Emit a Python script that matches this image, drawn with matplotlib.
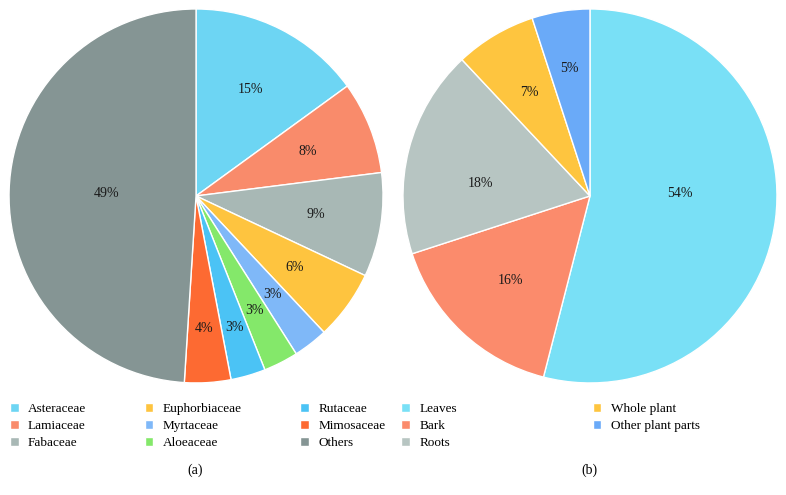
import numpy as np
import matplotlib.pyplot as plt

plt.rcParams['font.family'] = ['Liberation Serif', 'DejaVu Serif']

# (a) plant families
families = ["Asteraceae", "Lamiaceae", "Fabaceae", "Euphorbiaceae", "Myrtaceae",
            "Aloeaceae", "Rutaceae", "Mimosaceae", "Others"]
family_pct = [15, 8, 9, 6, 3, 3, 3, 4, 49]
family_colors = ["#6dd5f3", "#f98b6b", "#a8b8b5", "#fec43f", "#7fb8f8",
                 "#84e86a", "#4bc3f5", "#fd6a32", "#859594"]

# (b) plant parts
parts = ["Leaves", "Bark", "Roots", "Whole plant", "Other plant parts"]
part_pct = [54, 16, 18, 7, 5]
part_colors = ["#79e0f6", "#fb8b6c", "#b7c5c2", "#fec53f", "#6aaaf8"]

# label placement (fraction of radius, angle shift in degrees)
fam_lab_r = [0.64, 0.64, 0.65, 0.65, 0.67, 0.69, 0.73, 0.71, 0.48]
fam_lab_da = [0, 0, 0, 0, 0, 0, 0, 0, 0]
part_lab_r = [0.48, 0.62, 0.59, 0.64, 0.69]
part_lab_da = [9, 0, 8, 0, 0]

fig = plt.figure(figsize=(7.86, 4.95), dpi=100)
ax1 = fig.add_axes([0.0115, 0.2263, 0.4758, 0.7556])
ax2 = fig.add_axes([0.5127, 0.2263, 0.4758, 0.7556])

def draw_pie(ax, values, colors, lab_r, lab_da):
    wedges, texts, autotexts = ax.pie(
        values, colors=colors, startangle=90, counterclock=False,
        autopct='%d%%', pctdistance=0.64,
        wedgeprops=dict(edgecolor='white', linewidth=1),
        textprops=dict(fontsize=10, color='#1a1a1a'))
    # move the percent labels
    for w, t, r, da in zip(wedges, autotexts, lab_r, lab_da):
        ang = np.deg2rad((w.theta1 + w.theta2) / 2 + da)
        t.set_position((r * np.cos(ang), r * np.sin(ang)))
    ax.set_xlim(-1.0, 1.0)
    ax.set_ylim(-1.0, 1.0)
    ax.set_aspect('equal')
    return wedges

w1 = draw_pie(ax1, family_pct, family_colors, fam_lab_r, fam_lab_da)
w2 = draw_pie(ax2, part_pct, part_colors, part_lab_r, part_lab_da)

leg_kw = dict(frameon=False, fontsize=9.5, handlelength=0.65, handleheight=0.65,
              handletextpad=0.7, labelspacing=0.38, loc='upper left', borderaxespad=0)
fig.legend(w1, families, ncol=3, columnspacing=4.45,
           bbox_to_anchor=(0.006, 0.197), **leg_kw)
fig.legend(w2, parts, ncol=2, columnspacing=10.3,
           bbox_to_anchor=(0.504, 0.197), **leg_kw)

fig.text(0.248, 0.05, "(a)", ha='center', va='center', fontsize=10)
fig.text(0.750, 0.05, "(b)", ha='center', va='center', fontsize=10)

fig.savefig("out.png", dpi=100)
